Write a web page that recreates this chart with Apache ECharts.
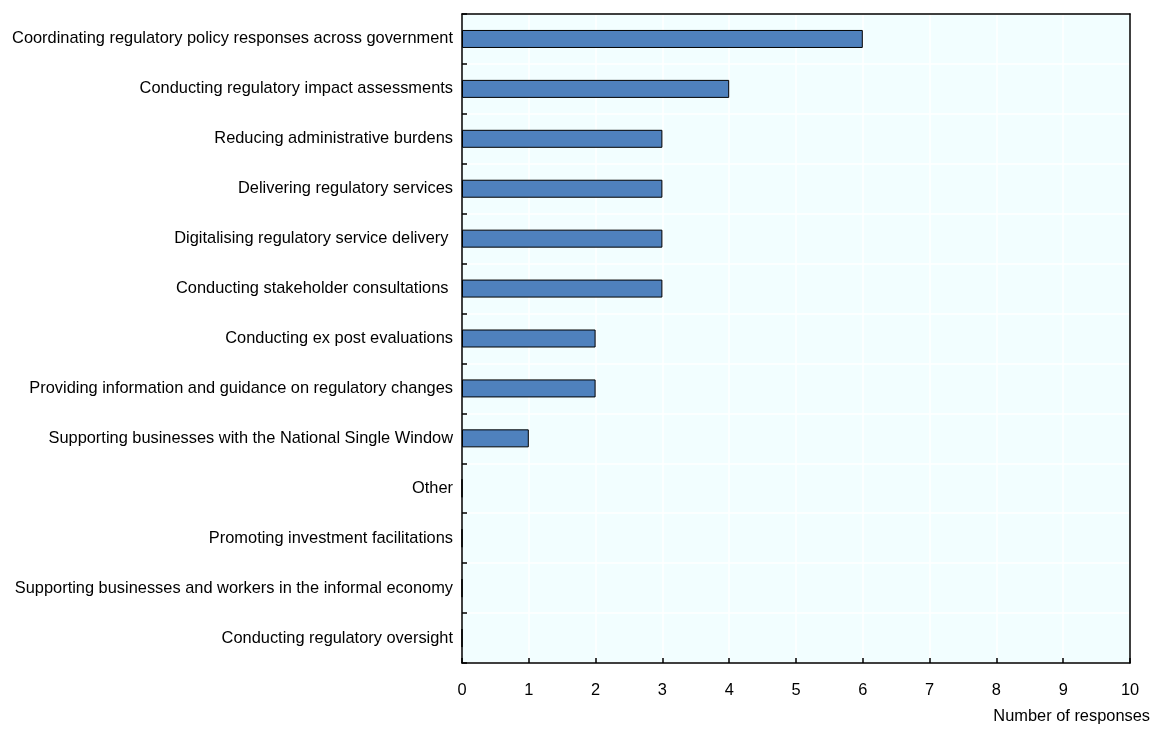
<!DOCTYPE html>
<html><head><meta charset="utf-8">
<script src="https://cdn.jsdelivr.net/npm/echarts@6/dist/echarts.min.js"></script>
<style>html,body{margin:0;padding:0;background:#fff}#c{width:1152px;height:729px}</style>
</head><body><div id="c"></div>
<script>
const categories = [
  "Coordinating regulatory policy responses across government",
  "Conducting regulatory impact assessments",
  "Reducing administrative burdens",
  "Delivering regulatory services",
  "Digitalising regulatory service delivery ",
  "Conducting stakeholder consultations ",
  "Conducting ex post evaluations",
  "Providing information and guidance on regulatory changes",
  "Supporting businesses with the National Single Window",
  "Other",
  "Promoting investment facilitations",
  "Supporting businesses and workers in the informal economy",
  "Conducting regulatory oversight"
];
const responses = [6, 4, 3, 3, 3, 3, 2, 2, 1, 0, 0, 0, 0];
const xTicks = [0,1,2,3,4,5,6,7,8,9,10];
const xTitle = "Number of responses";

const chart = echarts.init(document.getElementById('c'), null, {renderer:'canvas'});
const font = 'Arial, "Liberation Sans", sans-serif';
const fs = 16.4;
const blackLine = {show: true, onZero: false, lineStyle: {color: '#000', width: 1.5}};
chart.setOption({
  animation: false,
  backgroundColor: '#fff',
  grid: {left: 462, right: 22, top: 14, bottom: 66, show: true, backgroundColor: '#F2FEFF', borderWidth: 0,
         containLabel: false, outerBoundsMode: 'none'},
  xAxis: [{
    type: 'value', min: 0, max: 10, interval: 1,
    axisLine: blackLine,
    axisTick: {show: true, inside: true, length: 5, lineStyle: {color: '#000', width: 1.5}},
    axisLabel: {color: '#000', fontSize: fs, fontFamily: font, margin: 19,
      formatter: v => xTicks.includes(v) ? String(v) : ''},
    splitLine: {show: true, lineStyle: {color: '#fff', width: 1.5}}
  }, {
    type: 'value', position: 'top', min: 0, max: 10, interval: 1,
    axisLine: blackLine, axisTick: {show: false}, axisLabel: {show: false}, splitLine: {show: false}
  }],
  yAxis: [{
    type: 'category', data: categories, inverse: true,
    axisLine: blackLine,
    axisTick: {show: true, inside: true, length: 5, lineStyle: {color: '#000', width: 1.5}},
    axisLabel: {color: '#000', fontSize: fs, fontFamily: font, margin: 9, padding: [4, 0, 0, 0]},
    splitLine: {show: true, lineStyle: {color: '#fff', width: 1.5}}
  }, {
    type: 'category', position: 'right', data: categories, inverse: true,
    axisLine: blackLine, axisTick: {show: false}, axisLabel: {show: false}, splitLine: {show: false}
  }],
  series: [{
    type: 'bar', data: responses, barWidth: 18,
    itemStyle: {color: '#4F81BD', borderColor: '#000', borderWidth: 1}
  }],
  graphic: [{
    type: 'text', right: 2, top: 708,
    style: {text: xTitle, fill: '#000', font: fs + 'px ' + font, textAlign: 'right'}
  }]
});
</script></body></html>
